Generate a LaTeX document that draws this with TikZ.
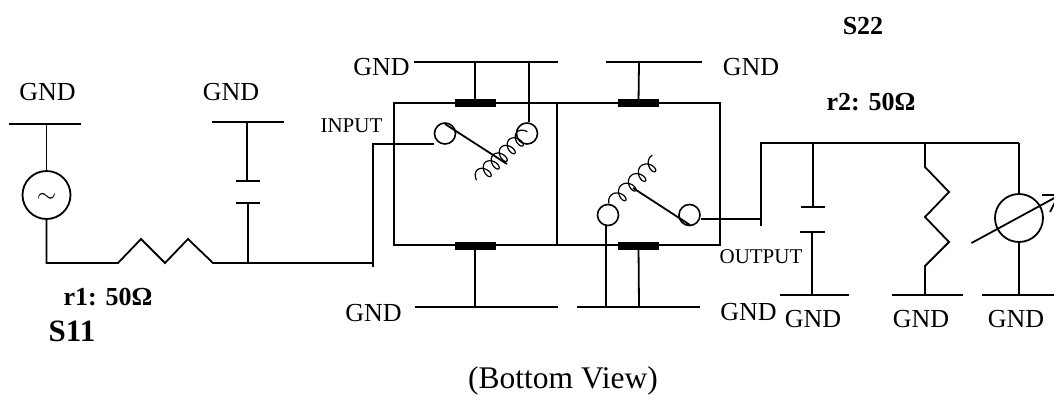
\documentclass[tikz,border=0pt]{standalone}
\usepackage{fontspec}
\setmainfont{Liberation Serif}
\tikzset{
  wire/.style={line width=1.8pt,line join=miter},
  coilw/.style={line width=1.2pt},
  term/.style={circle,draw,line width=1.6pt,minimum size=21pt,inner sep=0pt,fill=white},
  src/.style={circle,draw,line width=1.8pt,minimum size=48pt,inner sep=0pt},
  pad/.style={fill=black,minimum width=41pt,minimum height=8pt,inner sep=0pt,draw=none},
  lab/.style={font=\fontsize{26}{26}\selectfont,inner sep=0pt},
  small/.style={font=\fontsize{21}{21}\selectfont,inner sep=0pt},
  blab/.style={font=\fontsize{26}{26}\selectfont\bfseries,inner sep=0pt}
}
\begin{document}
\begin{tikzpicture}[x=1pt,y=-1pt]
\useasboundingbox (0,0) rectangle (1054,394);
% named points
\foreach \n/\x/\y in {gl1/9/124,gr1/81/124,gs/46.5/124,sb/46.5/263,r1a/118/263,r1p/141/239,r1q/165/263,r1r/188/239,r1b/213/263,
 gl2/212/122,gr2/284/122,c1t/247/122,c1u/247/181,c1ul/236/181,c1ur/260/181,c1d/248/203,c1dl/236/203,c1dr/260/203,c1j/248/263,
 inb/373/263,inbb/373/267,inc/373/144,
 tl1/414/62,tl2/558/62,tj1/475/62,tj2/529/62,tr1/606/62,tr2/702/62,tj3/639/62,
 bl1/415/307,bl2/558/307,bj1/475/307,br1/577/307,br2/700/307,bj2/606/307,bj3/639/307,
 ow/761/219,owb/761/226,owt/761/143,hr/1019/143,
 c2t/813/143,c2u/813/207,c2ul/801/207,c2ur/825/207,c2d/812/232,c2dl/800/232,c2dr/825/232,c2g/812/295,
 g3l/780/295,g3r/849/295,
 r2t/925/143,r2a/925/167,r2b/949/192,r2c/925/217,r2d/949/242,r2e/925/266,r2g/925/295,g4l/892/295,g4r/963/295,
 m0/1019/143,mg/1019/295,g5l/982/295,g5r/1054/295,
 bx1/394/103,bx2/557/103,bx3/720/103,bx4/720/245,bx5/557/245,bx6/394/245,
 a1/445/124,a2/507/164,b1/633/188,b2/690/225,
 arA/971.5/243,arB/1058/196,arC/1042/195,arD/1056/195,arE/1050/212}
 {\coordinate (\n) at (\x,\y);}
% box
\draw[wire] (bx1) rectangle (bx4);
\draw[wire] (bx2) -- (bx5);
% pads
\node[pad] (p1) at (475,103) {};
\node[pad] (p2) at (638.5,103) {};
\node[pad] (p3) at (475,246) {};
\node[pad] (p4) at (638.5,246) {};
% terminals
\node[term] (t1) at (445,133.5) {};
\node[term] (t2) at (527,133.5) {};
\node[term] (t3) at (608,215) {};
\node[term] (t4) at (689.5,215) {};
% rails
\draw[wire] (gl1) -- (gr1);
\draw[wire] (gl2) -- (gr2);
\draw[wire] (tl1) -- (tl2);
\draw[wire] (tr1) -- (tr2);
\draw[wire] (bl1) -- (bl2);
\draw[wire] (br1) -- (br2);
\draw[wire] (g3l) -- (g3r);
\draw[wire] (g4l) -- (g4r);
\draw[wire] (g5l) -- (g5r);
% source
\node[src] (S) at (46.5,195) {};
\node[inner sep=0pt,font=\fontsize{34}{34}\selectfont] (tilde) at (46.5,198) {$\sim$};
\draw[wire] (gs) -- (S);
\draw[wire] (S) -- (sb) -- (r1a) -- (r1p) -- (r1q) -- (r1r) -- (r1b) -- (inb);
% input lead
\draw[wire] (inbb) -- (inc) -- (t1.west |- inc);
% cap 1
\draw[wire] (c1t) -- (c1u);
\draw[wire] (c1ul) -- (c1ur);
\draw[wire] (c1dl) -- (c1dr);
\draw[wire] (c1d) -- (c1j);
% contacts
\draw[wire] (tj1) -- (p1);
\draw[wire] (tj2) -- (t2.north -| tj2);
\draw[wire] (tj3) -- (p2);
\draw[wire] (p3) -- (bj1);
\draw[wire] (p4) -- (bj3);
\draw[wire] (t3.south -| bj2) -- (bj2);
% switch arms
\draw[wire] (a1) -- (a2);
\draw[wire] (b1) -- (b2);
% coil 1
\draw[coilw,smooth] plot[domain=0:1,samples=180,variable=\t]
  ({480+44*\t + 4.6*cos(360*5.5*\t+180)*0.72 + 7*sin(360*5.5*\t+180)*0.69},
   {177-42*\t - 4.6*cos(360*5.5*\t+180)*0.69 + 7*sin(360*5.5*\t+180)*0.72});
% coil 2
\draw[coilw,smooth] plot[domain=0:1,samples=150,variable=\t]
  ({614+42*\t + 5*cos(360*4.25*\t+200)*0.72 + 7*sin(360*4.25*\t+200)*0.69},
   {202-41*\t - 5*cos(360*4.25*\t+200)*0.69 + 7*sin(360*4.25*\t+200)*0.72});
% output lead
\draw[wire] (t4.east |- ow) -- (ow);
\draw[wire] (owb) -- (owt) -- (hr);
% cap 2
\draw[wire] (c2t) -- (c2u);
\draw[wire] (c2ul) -- (c2ur);
\draw[wire] (c2dl) -- (c2dr);
\draw[wire] (c2d) -- (c2g);
% resistor 2
\draw[wire] (r2t) -- (r2a) -- (r2b) -- (r2c) -- (r2d) -- (r2e) -- (r2g);
% meter
\node[src] (M) at (1019,218) {};
\draw[wire] (m0) -- (M);
\draw[wire] (M) -- (mg);
\draw[wire] (arA) -- (arB);
\draw[wire] (arC) -- (arD);
\draw[wire] (arB) -- (arE);
% labels
\node[lab] (l1) at (47.5,92) {GND};
\node[lab] (l2) at (231,92) {GND};
\node[lab] (l3) at (381.5,67) {GND};
\node[lab] (l4) at (751,67) {GND};
\node[lab] (l5) at (373.5,313) {GND};
\node[lab] (l6) at (748.5,312) {GND};
\node[lab] (l7) at (813,319) {GND};
\node[lab] (l8) at (921,319) {GND};
\node[lab] (l9) at (1016,319) {GND};
\node[small] (inp) at (351.5,126) {INPUT};
\node[small] (out) at (761,257) {OUTPUT};
\node[blab] (s22) at (863,26) {S22};
\node[blab] (r2) at (871,102) {r2: 50Ω};
\node[blab] (r1) at (108,297) {r1: 50Ω};
\node[blab,font=\fontsize{31}{31}\selectfont\bfseries] (s11) at (72,331) {S11};
\node[inner sep=0pt,font=\fontsize{31.5}{31.5}\selectfont] (bv) at (563,381) {(Bottom View)};
\end{tikzpicture}
\end{document}
